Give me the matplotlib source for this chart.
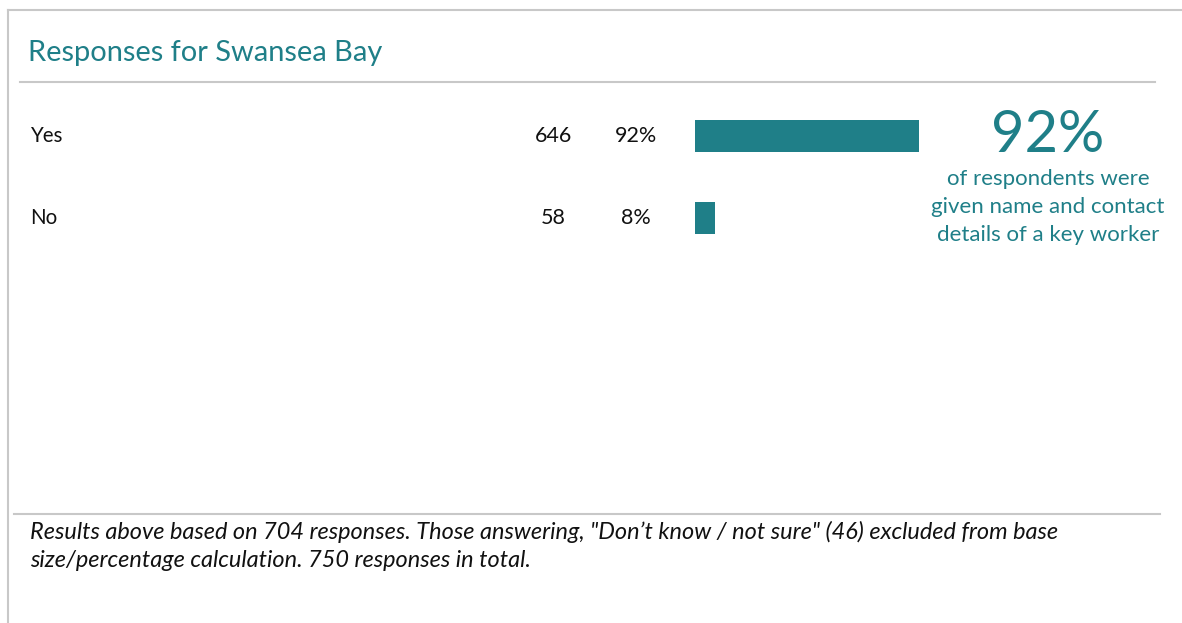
import matplotlib
matplotlib.use("Agg")
import matplotlib.pyplot as plt
from matplotlib.transforms import blended_transform_factory
from matplotlib.lines import Line2D

categories = ["Yes", "No"]
counts = [646, 58]
percents = [92, 8]
headline = "92%"
headline_sub = "of respondents were\ngiven name and contact\ndetails of a key worker"
title = "Responses for Swansea Bay"
footer = ('Results above based on 704 responses. Those answering, "Don\u2019t know / not sure" (46) excluded from base\n'
          'size/percentage calculation. 750 responses in total.')

TEAL = "#1f7f88"
W, H = 1182, 623
plt.rcParams['font.family'] = ['Lato', 'DejaVu Sans']

fig = plt.figure(figsize=(W / 100, H / 100), dpi=100)
fig.patch.set_facecolor("white")

def fx(px):
    return px / W

def fy(py):
    return 1 - py / H

# frame lines
for xs, ys in [((8, W), (10, 10)), ((8, 8), (10, H)),
               ((20, 1155), (82, 82)), ((14, 1160), (514, 514))]:
    fig.add_artist(Line2D([fx(x) for x in xs], [fy(y) for y in ys],
                          color="#c8c8c8", lw=1.5, transform=fig.transFigure))

fig.text(fx(28), fy(53), title, color=TEAL, fontsize=20.9, va="center", ha="left")

# bar axes
top, bottom = 95, 259
ax = fig.add_axes([fx(695), fy(bottom), 244 / W, (bottom - top) / H])
ypos = list(range(len(categories)))
ax.barh(ypos, percents, height=0.39, color=TEAL)
ax.set_xlim(0, 100)
ax.set_ylim(1.5, -0.5)
ax.axis("off")

tr = blended_transform_factory(fig.transFigure, ax.transData)
for y, cat, c, p in zip(ypos, categories, counts, percents):
    ax.text(fx(30), y, cat, transform=tr, ha="left", va="center", fontsize=14.8, color="#111111", clip_on=False)
    ax.text(fx(553), y, f"{c}", transform=tr, ha="center", va="center", fontsize=15.5, color="#111111", clip_on=False)
    ax.text(fx(636), y, f"{p}%", transform=tr, ha="center", va="center", fontsize=15.5, color="#111111", clip_on=False)

fig.text(fx(1048), fy(136), headline, color=TEAL, fontsize=41.7, ha="center", va="center")
fig.text(fx(1048), fy(207), headline_sub, color=TEAL, fontsize=16, ha="center", va="center",
         linespacing=1.5)

fig.text(fx(30), fy(546), footer, color="#111111", fontsize=16.9, style="italic",
         ha="left", va="center", linespacing=1.45)

fig.savefig("out.png", dpi=100, facecolor="white")
